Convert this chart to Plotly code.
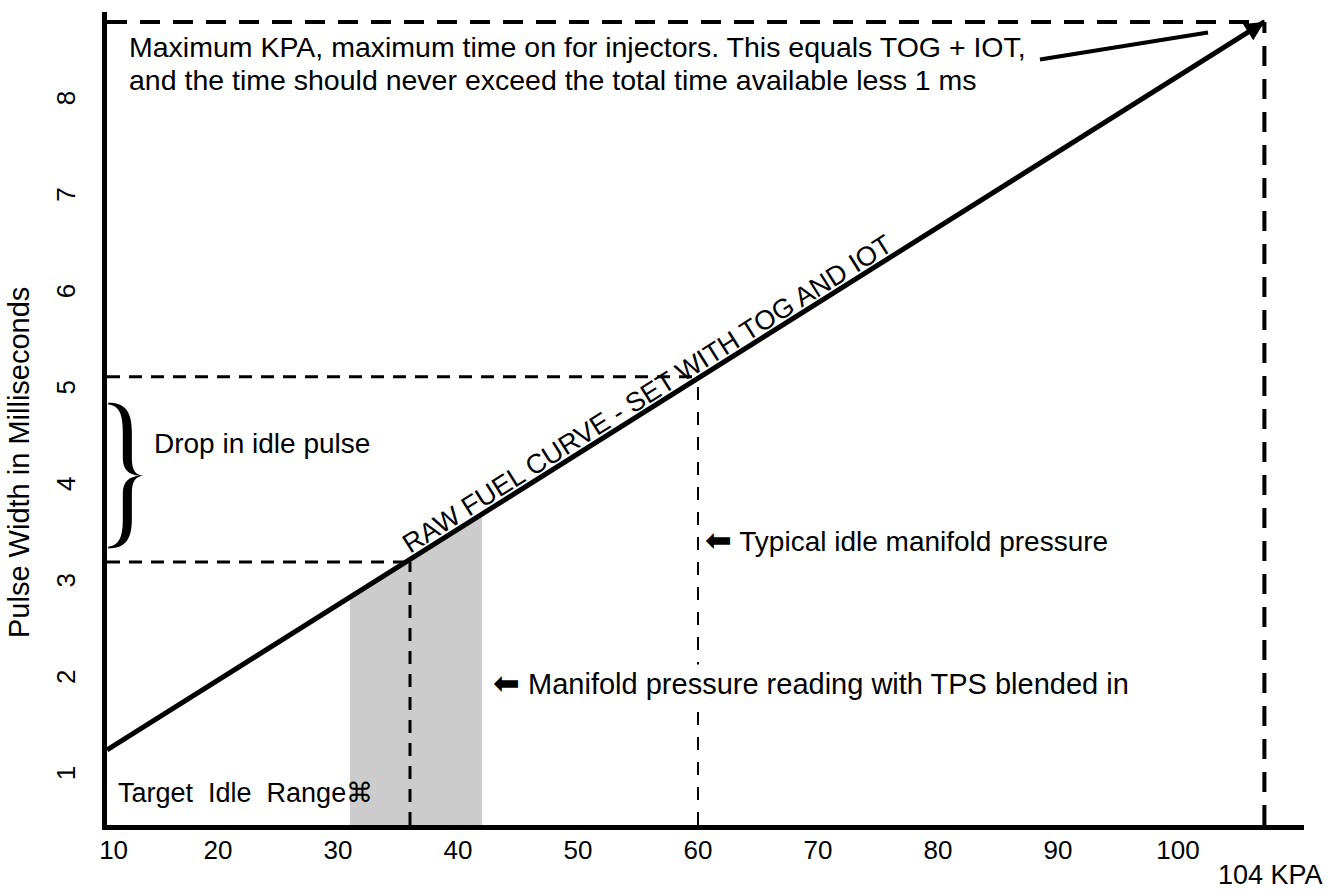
import math
import numpy as np
import plotly.graph_objects as go

# ---------------- data ----------------
kpa_curve = [10.75, 107.2]          # raw fuel curve end points (KPA)
pw_curve = [1.28, 8.83]             # pulse width (ms)
x_tick_values = [10, 20, 30, 40, 50, 60, 70, 80, 90, 100]
y_tick_values = [1, 2, 3, 4, 5, 6, 7, 8]
shade_kpa = [31, 42]                # target idle range
idle_kpa = 36
idle_pw = 3.23
typical_kpa = 60
typical_pw = 5.15
max_kpa = 107.2
max_pw = 8.83
pointer_kpa = [88.5, 102.5]
pointer_pw = [8.44, 8.72]
brace_kpa = [10.85, 13.75]
brace_pw = [3.37, 4.88]

# ---------------- layout geometry ----------------
W, H = 1328, 893
ML, MR, MT, MB = 107, 24, 12, 68
X_RANGE = [10.75, 110.5]
Y_RANGE = [0.502, 8.933]
FONT = "Liberation Sans, Arial, Helvetica, sans-serif"
FS = 28

xpx = (W - ML - MR) / (X_RANGE[1] - X_RANGE[0])
ypx = (H - MT - MB) / (Y_RANGE[1] - Y_RANGE[0])

fig = go.Figure()

# shaded idle range under the curve
sy = list(np.interp(shade_kpa, kpa_curve, pw_curve))
fig.add_trace(go.Scatter(
    x=[shade_kpa[0], shade_kpa[0], shade_kpa[1], shade_kpa[1]],
    y=[Y_RANGE[0], sy[0], sy[1], Y_RANGE[0]],
    fill="toself", fillcolor="#cccccc", mode="none", hoverinfo="skip"))

def dashed(xs, ys, width, dash):
    fig.add_trace(go.Scatter(x=xs, y=ys, mode="lines",
                             line=dict(color="black", width=width, dash=dash),
                             hoverinfo="skip"))

# top and right frame dashed (maximum)
dashed([X_RANGE[0], max_kpa], [max_pw, max_pw], 4, "20px,13px")
dashed([max_kpa, max_kpa], [Y_RANGE[0], max_pw], 4, "20px,13px")
# typical idle
dashed([X_RANGE[0], typical_kpa], [typical_pw, typical_pw], 3, "13px,9px")
dashed([typical_kpa, typical_kpa], [Y_RANGE[0], typical_pw], 2, "13px,12px")
# idle with TPS
dashed([X_RANGE[0], idle_kpa], [idle_pw, idle_pw], 3, "13px,9px")
dashed([idle_kpa, idle_kpa], [Y_RANGE[0], idle_pw], 3, "13px,10px")

# pointer line from the note
fig.add_trace(go.Scatter(x=pointer_kpa, y=pointer_pw, mode="lines",
                         line=dict(color="black", width=4), hoverinfo="skip"))

# raw fuel curve
fig.add_trace(go.Scatter(
    x=kpa_curve, y=pw_curve, mode="lines",
    line=dict(color="black", width=5), hoverinfo="skip"))

# arrow head at the end of the curve
back_x = kpa_curve[1] - 2.0
back_y = float(np.interp(back_x, kpa_curve, pw_curve))
fig.add_annotation(x=kpa_curve[1], y=pw_curve[1], ax=back_x, ay=back_y,
                   xref="x", yref="y", axref="x", ayref="y", text="",
                   showarrow=True, arrowhead=2, arrowsize=1.1, arrowwidth=3.5,
                   arrowcolor="black", standoff=0, startstandoff=0)

# brace
def bp(u, v):
    x = brace_kpa[0] + u * (brace_kpa[1] - brace_kpa[0])
    y = brace_pw[0] + v * (brace_pw[1] - brace_pw[0])
    return f"{x:.4f},{y:.4f}"

path = (
    f"M {bp(0,1)} C {bp(0.45,1)} {bp(0.68,0.95)} {bp(0.68,0.80)} "
    f"L {bp(0.68,0.62)} C {bp(0.68,0.54)} {bp(0.78,0.505)} {bp(1,0.5)} "
    f"C {bp(0.78,0.495)} {bp(0.68,0.46)} {bp(0.68,0.38)} "
    f"L {bp(0.68,0.20)} C {bp(0.68,0.05)} {bp(0.45,0)} {bp(0,0)} "
    f"L {bp(0,0.012)} C {bp(0.3,0.02)} {bp(0.42,0.07)} {bp(0.42,0.20)} "
    f"L {bp(0.42,0.38)} C {bp(0.42,0.46)} {bp(0.6,0.495)} {bp(0.9,0.5)} "
    f"C {bp(0.6,0.505)} {bp(0.42,0.54)} {bp(0.42,0.62)} "
    f"L {bp(0.42,0.80)} C {bp(0.42,0.93)} {bp(0.3,0.98)} {bp(0,0.988)} Z"
)
fig.add_shape(type="path", path=path, xref="x", yref="y",
              fillcolor="black", line=dict(width=0))

def note(text, x, y, xanchor="left", yanchor="middle", xref="x", yref="y",
         angle=0, size=FS, bg=None, xshift=0, yshift=0):
    fig.add_annotation(text=text, x=x, y=y, xref=xref, yref=yref,
                       xanchor=xanchor, yanchor=yanchor, showarrow=False,
                       textangle=angle, font=dict(family=FONT, size=size, color="black"),
                       bgcolor=bg, borderpad=0, xshift=xshift, yshift=yshift)

ARROW = "<span style='font-size:32px'>\u2b05</span>"

note("Maximum KPA, maximum time on for injectors. This equals TOG + IOT,",
     12.5, Y_RANGE[1] - (47 - MT) / ypx, size=28.5)
note("and the time should never exceed the total time available less 1 ms",
     12.5, Y_RANGE[1] - (80 - MT) / ypx, size=28.5)
note("Drop in idle pulse", 14.6, 4.46)
note("Target\u00a0 Idle\u00a0 Range\u2318", 11.6, 0.834, size=27)
note(ARROW + " Typical idle manifold pressure", 60.5, 3.46)
note(ARROW + " Manifold pressure reading with TPS blended in", 42.8, 1.97,
     bg="white", size=29)

# rotated curve label
slope_px = (pw_curve[1] - pw_curve[0]) * ypx / ((kpa_curve[1] - kpa_curve[0]) * xpx)
ang = math.degrees(math.atan(slope_px))
mid_x = 56.4
mid_y = float(np.interp(mid_x, kpa_curve, pw_curve))
off = 14
note("RAW FUEL CURVE - SET WITH TOG AND IOT", mid_x, mid_y, xanchor="center",
     angle=-ang, size=27, xshift=-off * math.sin(math.radians(ang)),
     yshift=off * math.cos(math.radians(ang)))

# axis titles
note("104 KPA", max_kpa + 0.5, -0.061, xanchor="center", yref="paper", size=27)
fig.add_annotation(text="Pulse Width in Milliseconds", x=0, y=(H - MB - 463) / (H - MT - MB),
                   xref="paper", yref="paper", xanchor="center", yanchor="middle",
                   xshift=-(ML - 19), showarrow=False, textangle=-90,
                   font=dict(family=FONT, size=29, color="black"))

x_tick_pos = [X_RANGE[0] + 0.55 if v < X_RANGE[0] + 1 else v for v in x_tick_values]

fig.update_layout(
    width=W, height=H, showlegend=False,
    margin=dict(l=ML, r=MR, t=MT, b=MB, autoexpand=False),
    paper_bgcolor="white", plot_bgcolor="white",
    font=dict(family=FONT, size=26, color="black"),
    xaxis=dict(range=X_RANGE, showgrid=False, zeroline=False, showline=True,
               linecolor="black", linewidth=5, ticks="", automargin=False,
               tickvals=x_tick_pos, ticktext=[str(v) for v in x_tick_values],
               tickfont=dict(family=FONT, size=26, color="black"),
               ticklabelstandoff=-2),
    yaxis=dict(range=Y_RANGE, showgrid=False, zeroline=False, showline=True,
               linecolor="black", linewidth=5, ticks="", automargin=False,
               tickvals=y_tick_values, tickangle=-90,
               tickfont=dict(family=FONT, size=26, color="black"),
               ticklabelstandoff=17),
)

fig.write_html("out.html", config={"displayModeBar": False},
               post_script="document.body.style.margin='0';document.body.style.overflow='hidden';")
